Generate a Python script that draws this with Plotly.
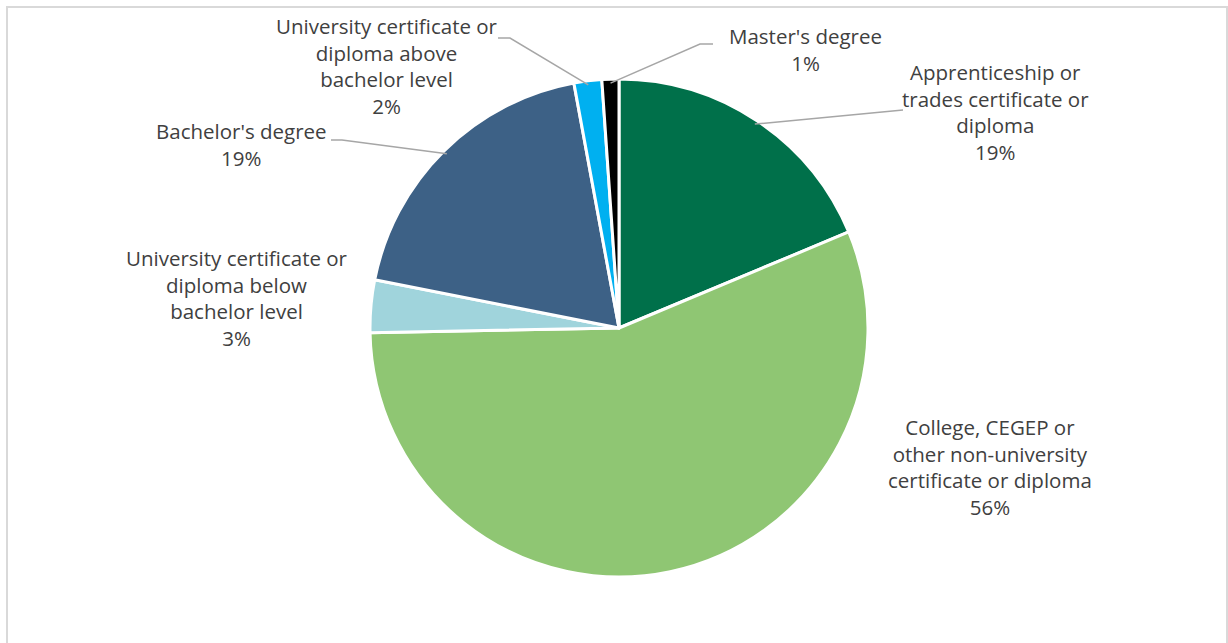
import math
import plotly.graph_objects as go

categories = [
    "Apprenticeship or trades certificate or diploma",
    "College, CEGEP or other non-university certificate or diploma",
    "University certificate or diploma below bachelor level",
    "Bachelor's degree",
    "University certificate or diploma above bachelor level",
    "Master's degree",
]
label_text = [
    "Apprenticeship or<br>trades certificate or<br>diploma",
    "College, CEGEP or<br>other non-university<br>certificate or diploma",
    "University certificate or<br>diploma below<br>bachelor level",
    "Bachelor's degree",
    "University certificate or<br>diploma above<br>bachelor level",
    "Master's degree",
]
values = [18.7, 56.0, 3.4, 19.0, 1.8, 1.1]
colors = ["#00704A", "#8FC673", "#A0D4DC", "#3D6186", "#00B0F0", "#000000"]

W, H = 1228, 643
cx, cy, R = 619, 328, 249


def px(x):
    return x / W


def py(y):
    return 1 - y / H


fig = go.Figure(go.Pie(
    labels=categories,
    values=values,
    sort=False,
    direction="clockwise",
    rotation=0,
    marker=dict(colors=colors, line=dict(color="white", width=3)),
    textinfo="none",
    hoverinfo="label+percent",
    showlegend=False,
    domain=dict(x=[px(cx - R), px(cx + R)], y=[py(cy + R), py(cy - R)]),
))

# label block centres (pixels) and leader-line end points (pixels, or None)
label_pos = [(995, 112), (990, 467), (237, 298), (241, 145), (387, 66), (805, 49)]
leader_end = [[(903, 110)], None, None, [(342, 140), (331, 140)],
              [(510, 38), (498, 38)], [(700, 44), (713, 44)]]

total = sum(values)
cum = 0
annotations = []
shapes = []
for i, v in enumerate(values):
    mid = (cum + v / 2) / total * 2 * math.pi
    cum += v
    pct = round(v / total * 100)
    lx, ly = label_pos[i]
    annotations.append(dict(
        x=px(lx), y=py(ly), xref="paper", yref="paper",
        text=f"{label_text[i]}<br>{pct}%", showarrow=False,
        xanchor="center", yanchor="middle", align="center",
        font=dict(family="Open Sans", size=20.5, color="#404040"),
    ))
    if leader_end[i]:
        sx = cx + (R - 4) * math.sin(mid)
        sy = cy - (R - 4) * math.cos(mid)
        pts = [(sx, sy)] + leader_end[i]
        path = "M " + " L ".join(f"{px(a)},{py(b)}" for a, b in pts)
        shapes.append(dict(type="path", xref="paper", yref="paper", path=path,
                           line=dict(color="#A6A6A6", width=1.5)))

shapes.append(dict(type="rect", xref="paper", yref="paper",
                   x0=px(7), x1=px(1227), y0=py(660), y1=py(7),
                   line=dict(color="#D9D9D9", width=2)))

fig.update_layout(
    width=W, height=H,
    margin=dict(l=0, r=0, t=0, b=0),
    paper_bgcolor="white", plot_bgcolor="white",
    annotations=annotations, shapes=shapes,
)
fig.write_html("out.html", config={"displayModeBar": False},
               post_script="document.body.style.margin='0';")
